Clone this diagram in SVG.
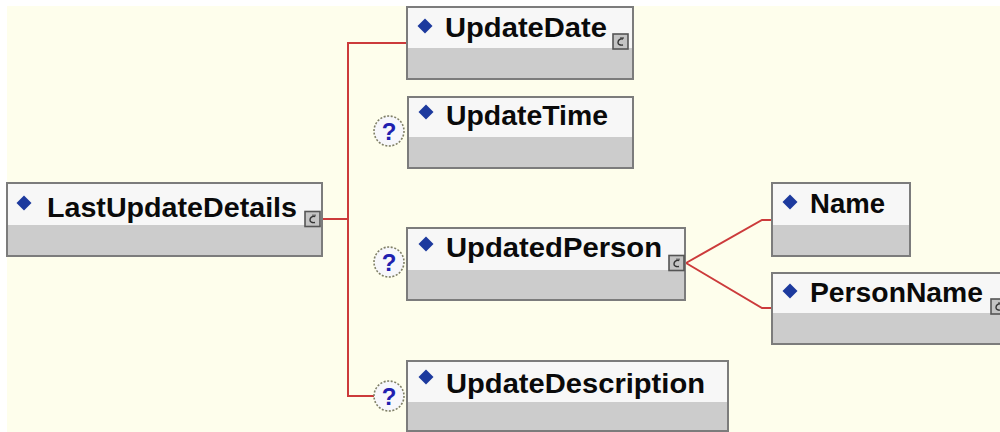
<svg xmlns="http://www.w3.org/2000/svg" xmlns:xlink="http://www.w3.org/1999/xlink" width="1000" height="432" viewBox="0 0 1000 432">
  <style>
    .hdr { fill: #f7f7f7; }
    .body { fill: #cccccc; }
    .frame { fill: none; stroke: #7c7c7c; stroke-width: 2; }
    .lbl { font-family: "Liberation Sans", Arial, sans-serif; font-weight: bold; font-size: 28px; fill: #0a0a0a; }
    .dia { fill: #1d3a9e; }
    .wire { fill: none; stroke: #cc3b3b; stroke-width: 2; }
    .optc { fill: #f7f7fb; stroke: #7f7f66; stroke-width: 1.6; stroke-dasharray: 2 1.6; }
    .optq { font-family: "Liberation Sans", Arial, sans-serif; font-weight: bold; font-size: 24px; fill: #2020b0; text-anchor: middle; }
  </style>
  <defs>
    <!-- small "complex content" badge -->
    <symbol id="cplx" viewBox="0 0 17 17">
      <rect x="1" y="1" width="15" height="15" fill="#c4c4c4" stroke="#555" stroke-width="1.6"/>
      <path d="M11 6 C8 5.5 6 7 6 9.5 C6 11.5 8 12.5 11 12" fill="none" stroke="#333" stroke-width="1.4"/>
      <path d="M9 4 L9 6 M11 4 L11 6" stroke="#333" stroke-width="1.1"/>
    </symbol>
    <path id="dmd" d="M0 -7.5 L7.5 0 L0 7.5 L-7.5 0 Z"/>
  </defs>

  <!-- canvas -->
  <rect width="1000" height="432" fill="#ffffff"/>
  <rect x="7" y="6" width="993" height="426" fill="#fefeec"/>

  <!-- connectors -->
  <g id="connectors">
    <path class="wire" d="M321 219 H348"/>
    <path class="wire" d="M407 43 H348 V396 H374"/>
    <path class="wire" d="M686 263 L762 220 H772"/>
    <path class="wire" d="M686 263 L762 308 H772"/>
  </g>

  <!-- LastUpdateDetails -->
  <g id="node-LastUpdateDetails">
    <rect class="hdr" x="7" y="183" width="315" height="42"/>
    <rect class="body" x="7" y="225" width="315" height="31"/>
    <rect class="frame" x="7" y="183" width="315" height="73"/>
    <use xlink:href="#dmd" class="dia" x="24" y="203"/>
    <text class="lbl" x="47" y="217" textLength="250" lengthAdjust="spacingAndGlyphs">LastUpdateDetails</text>
    <use xlink:href="#cplx" x="304" y="210" width="17" height="18"/>
  </g>

  <!-- UpdateDate -->
  <g id="node-UpdateDate">
    <rect class="hdr" x="407" y="7" width="226" height="41"/>
    <rect class="body" x="407" y="48" width="226" height="31"/>
    <rect class="frame" x="407" y="7" width="226" height="72"/>
    <use xlink:href="#dmd" class="dia" x="425" y="26"/>
    <text class="lbl" x="445" y="37" textLength="162" lengthAdjust="spacingAndGlyphs">UpdateDate</text>
    <use xlink:href="#cplx" x="612" y="33" width="17" height="17"/>
  </g>

  <!-- UpdateTime (optional) -->
  <g id="node-UpdateTime">
    <circle class="optc" cx="389" cy="131" r="15"/>
    <text class="optq" x="389" y="140">?</text>
    <rect class="hdr" x="408" y="97" width="225" height="40"/>
    <rect class="body" x="408" y="137" width="225" height="31"/>
    <rect class="frame" x="408" y="97" width="225" height="71"/>
    <use xlink:href="#dmd" class="dia" x="426" y="112"/>
    <text class="lbl" x="446" y="125" textLength="162" lengthAdjust="spacingAndGlyphs">UpdateTime</text>
  </g>

  <!-- UpdatedPerson (optional) -->
  <g id="node-UpdatedPerson">
    <circle class="optc" cx="389" cy="262" r="15"/>
    <text class="optq" x="389" y="271">?</text>
    <rect class="hdr" x="407" y="228" width="278" height="42"/>
    <rect class="body" x="407" y="270" width="278" height="30"/>
    <rect class="frame" x="407" y="228" width="278" height="72"/>
    <use xlink:href="#dmd" class="dia" x="426" y="244"/>
    <text class="lbl" x="446" y="257" textLength="216" lengthAdjust="spacingAndGlyphs">UpdatedPerson</text>
    <use xlink:href="#cplx" x="668" y="254" width="17" height="18"/>
  </g>

  <!-- UpdateDescription (optional) -->
  <g id="node-UpdateDescription">
    <circle class="optc" cx="389" cy="396" r="15"/>
    <text class="optq" x="389" y="405">?</text>
    <rect class="hdr" x="407" y="361" width="321" height="41"/>
    <rect class="body" x="407" y="402" width="321" height="29"/>
    <rect class="frame" x="407" y="361" width="321" height="70"/>
    <use xlink:href="#dmd" class="dia" x="426" y="377"/>
    <text class="lbl" x="446" y="393" textLength="259" lengthAdjust="spacingAndGlyphs">UpdateDescription</text>
  </g>

  <!-- Name -->
  <g id="node-Name">
    <rect class="hdr" x="772" y="183" width="138" height="42"/>
    <rect class="body" x="772" y="225" width="138" height="31"/>
    <rect class="frame" x="772" y="183" width="138" height="73"/>
    <use xlink:href="#dmd" class="dia" x="790" y="202"/>
    <text class="lbl" x="810" y="213" textLength="75" lengthAdjust="spacingAndGlyphs">Name</text>
  </g>

  <!-- PersonName -->
  <g id="node-PersonName">
    <rect class="hdr" x="772" y="273" width="240" height="40"/>
    <rect class="body" x="772" y="313" width="240" height="31"/>
    <rect class="frame" x="772" y="273" width="240" height="71"/>
    <use xlink:href="#dmd" class="dia" x="790" y="291"/>
    <text class="lbl" x="810" y="302" textLength="173" lengthAdjust="spacingAndGlyphs">PersonName</text>
    <use xlink:href="#cplx" x="990" y="298" width="17" height="17"/>
  </g>
</svg>
